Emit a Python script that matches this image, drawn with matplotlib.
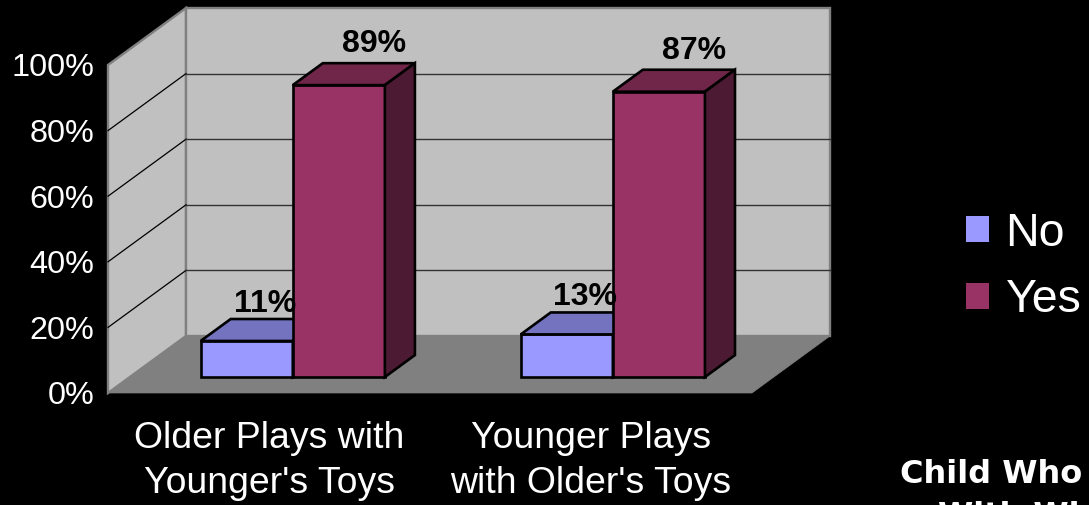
import matplotlib
matplotlib.use("Agg")
import matplotlib.pyplot as plt
from matplotlib.patches import Patch, Polygon

categories = ["Older Plays with\nYounger's Toys", "Younger Plays\nwith Older's Toys"]
no_values = [11, 13]
yes_values = [89, 87]
y_ticks = [0, 20, 40, 60, 80, 100]
series_names = ["No", "Yes"]

W, H = 1089, 505
plt.rcParams["font.family"] = ["Liberation Sans", "DejaVu Sans"]

fig = plt.figure(figsize=(W / 100, H / 100), dpi=100, facecolor="black")
# axes = front plane of the fake 3d box, in pixels
left, right, top, bottom = 108, 752, 65, 393
ax = fig.add_axes([left / W, 1 - bottom / H, (right - left) / W, (bottom - top) / H])
ax.set_xlim(0, 2)
ax.set_ylim(0, 100)
ax.patch.set_visible(False)
for s in ax.spines.values():
    s.set_visible(False)

# oblique projection, depth d goes 0 (front) to 1 (back)
DX = 78 / (right - left) * 2
DY = 57 / (bottom - top) * 100


def proj(x, y, d):
    return x + d * DX, y + d * DY


def face(points, fc, ec="black", lw=1.9, z=1):
    ax.add_patch(Polygon([proj(*p) for p in points], closed=True, fc=fc, ec=ec, lw=lw,
                         zorder=z, clip_on=False, joinstyle="miter"))


wall = "#C0C0C0"
edge = "#808080"
face([(0, 0, 0), (0, 100, 0), (0, 100, 1), (0, 0, 1)], wall, edge, 1.7)
face([(0, 0, 1), (0, 100, 1), (2, 100, 1), (2, 0, 1)], wall, edge, 1.7)
face([(0, 0, 0), (2, 0, 0), (2, 0, 1), (0, 0, 1)], edge, edge, 0.5)

for t in y_ticks[1:-1]:
    ax.plot(*zip(proj(0, t, 0), proj(0, t, 1)), color="black", lw=0.9, zorder=2, clip_on=False)
    ax.plot(*zip(proj(0, t, 1), proj(2, t, 1)), color="#333333", lw=1.0, zorder=2, clip_on=False)


def bar3d(x0, w, v, front, top_c, side_c, z):
    d0, d1 = 0.28, 0.665
    face([(x0, 0, d0), (x0 + w, 0, d0), (x0 + w, v, d0), (x0, v, d0)], front, z=z)
    face([(x0, v, d0), (x0 + w, v, d0), (x0 + w, v, d1), (x0, v, d1)], top_c, z=z)
    face([(x0 + w, 0, d0), (x0 + w, 0, d1), (x0 + w, v, d1), (x0 + w, v, d0)], side_c, z=z)


bar_w = 0.286
bar_start = 0.22
for i in range(len(categories)):
    x_no = i + bar_start - i * 0.006
    x_yes = x_no + bar_w
    bar3d(x_no, bar_w, no_values[i], "#9999FF", "#7373BF", "#4D4D80", 3)
    bar3d(x_yes, bar_w, yes_values[i], "#993366", "#702648", "#4D1A33", 4)
    fx, fy = proj(x_no + bar_w / 2, no_values[i], 0.28)
    ax.annotate(f"{no_values[i]}%", (fx, fy), xytext=(18, 29), textcoords="offset pixels",
                ha="center", va="baseline", fontsize=23, fontweight="bold", color="black",
                zorder=6, annotation_clip=False)
    fx, fy = proj(x_yes + bar_w / 2, yes_values[i], 0.28)
    ax.annotate(f"{yes_values[i]}%", (fx, fy), xytext=(35, 33), textcoords="offset pixels",
                ha="center", va="baseline", fontsize=23, fontweight="bold", color="black",
                zorder=6, annotation_clip=False)

ax.set_yticks(y_ticks)
ax.set_yticklabels([f"{t}%" for t in y_ticks], fontsize=23.3, color="white")
ax.set_xticks([0.5, 1.5])
ax.set_xticklabels(categories, fontsize=26.9, color="white", linespacing=1.39)
ax.tick_params(axis="y", length=0, pad=10)
ax.tick_params(axis="x", length=0, pad=20)

handles = [Patch(fc="#9999FF", ec="none"), Patch(fc="#993366", ec="none")]
fig.legend(handles, series_names, loc="center left", bbox_to_anchor=(966 / W, 1 - 267 / H),
           frameon=False, fontsize=33.5, labelcolor="white", handlelength=0.49, handleheight=0.49,
           handletextpad=0.36, labelspacing=0.48, borderpad=0, borderaxespad=0)

# axis title, cut off by the picture edge
fig.text(900 / W, 1 - 483 / H, "Child Who", family="DejaVu Sans", fontweight="bold",
         fontsize=23, color="white", ha="left", va="baseline")
fig.text(938 / W, 1 - 525 / H, "With Wh", family="DejaVu Sans", fontweight="bold",
         fontsize=23, color="white", ha="left", va="baseline")

fig.savefig("out.png", dpi=100, facecolor="black")
